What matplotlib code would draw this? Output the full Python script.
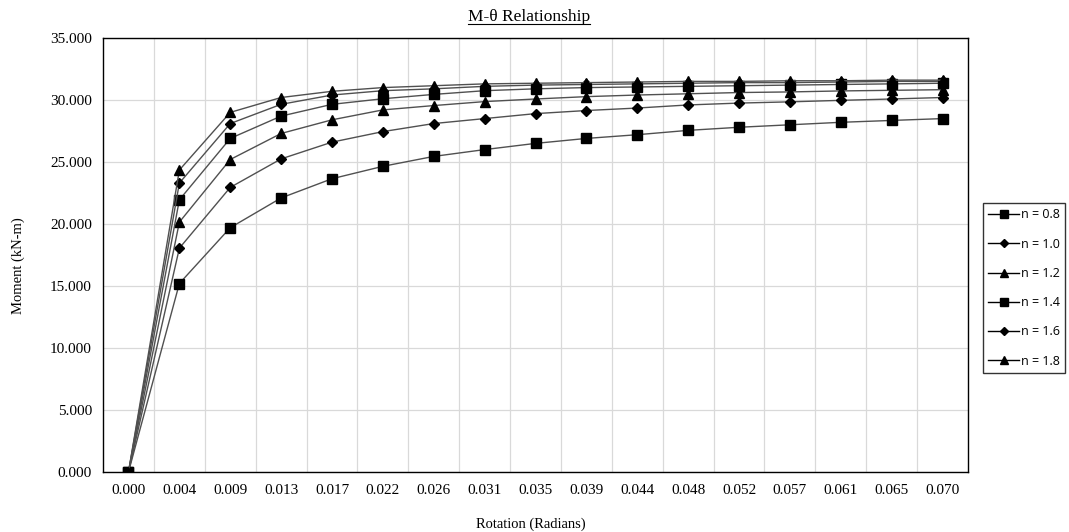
import matplotlib
matplotlib.use('Agg')
import matplotlib.pyplot as plt
from matplotlib.lines import Line2D
import numpy as np

# Data
rotation = ['0.000', '0.004', '0.009', '0.013', '0.017', '0.022', '0.026', '0.031', '0.035',
            '0.039', '0.044', '0.048', '0.052', '0.057', '0.061', '0.065', '0.070']
n_labels = ['n = 0.8', 'n = 1.0', 'n = 1.2', 'n = 1.4', 'n = 1.6', 'n = 1.8']
m_n08 = [0, 15.2, 19.7, 22.1, 23.65, 24.65, 25.45, 26.0, 26.5, 26.9, 27.2, 27.55, 27.8, 28.0, 28.2, 28.35, 28.5]
m_n10 = [0, 18.05, 22.95, 25.25, 26.6, 27.45, 28.1, 28.5, 28.9, 29.15, 29.35, 29.6, 29.75, 29.85, 29.97, 30.08, 30.2]
m_n12 = [0, 20.15, 25.2, 27.3, 28.4, 29.2, 29.55, 29.87, 30.08, 30.27, 30.4, 30.5, 30.6, 30.65, 30.73, 30.78, 30.83]
m_n14 = [0, 21.95, 26.9, 28.7, 29.65, 30.1, 30.45, 30.75, 30.9, 31.0, 31.05, 31.1, 31.15, 31.2, 31.25, 31.3, 31.35]
m_n16 = [0, 23.3, 28.1, 29.65, 30.4, 30.75, 30.9, 31.1, 31.2, 31.25, 31.3, 31.35, 31.4, 31.4, 31.45, 31.5, 31.5]
m_n18 = [0, 24.35, 29.0, 30.2, 30.7, 31.0, 31.15, 31.3, 31.35, 31.4, 31.45, 31.5, 31.5, 31.55, 31.55, 31.6, 31.6]
series = [m_n08, m_n10, m_n12, m_n14, m_n16, m_n18]
markers = ['s', 'D', '^', 's', 'D', '^']
msizes = [7, 5, 7, 7, 5, 7]

serif = ['Liberation Serif', 'DejaVu Serif']

fig = plt.figure(figsize=(10.69, 5.32), dpi=100)
ax = fig.add_axes([0.0964, 0.1128, 0.8091, 0.8158])

x = np.arange(len(rotation))
for vals, lab, mk, ms in zip(series, n_labels, markers, msizes):
    ax.plot(x, vals, color='#505050', lw=1.0, marker=mk, markersize=ms,
            markerfacecolor='black', markeredgecolor='black', label=lab, zorder=3)

ax.set_xlim(-0.5, len(rotation) - 0.5)
ax.set_ylim(0, 35)
ax.set_yticks(np.arange(0, 35.1, 5))
ax.set_yticklabels([f'{v:.3f}' for v in np.arange(0, 35.1, 5)], fontfamily=serif, fontsize=11)
ax.set_xticks(x)
ax.set_xticklabels(rotation, fontfamily=serif, fontsize=11)
ax.set_xticks(np.arange(0.5, len(rotation) - 0.5, 1), minor=True)
ax.tick_params(axis='x', which='major', length=0, pad=9)
ax.tick_params(axis='x', which='minor', length=0)
ax.tick_params(axis='y', length=0, pad=8)
ax.grid(True, which='minor', axis='x', color='#d9d9d9', lw=0.9)
ax.grid(True, which='major', axis='y', color='#d9d9d9', lw=0.9)
ax.set_axisbelow(True)
for sp in ax.spines.values():
    sp.set_color('black')
    sp.set_linewidth(1.0)

fig.text(531 / 1069, 1 - 524 / 532, 'Rotation (Radians)', ha='center', va='center',
         fontfamily=serif, fontsize=10.5)
fig.text(18 / 1069, 0.5, 'Moment (kN-m)', ha='center', va='center', rotation=90,
         fontfamily=serif, fontsize=10.5)
title = fig.text(529 / 1069, 1 - 17 / 532, 'M-θ Relationship', ha='center', va='center',
                 fontfamily=serif, fontsize=12.5)

# underline the title
fig.canvas.draw()
bb = title.get_window_extent().transformed(fig.transFigure.inverted())
fig.add_artist(Line2D([bb.x0, bb.x1], [bb.y0 + 0.002, bb.y0 + 0.002], color='black', lw=0.8))

leg = ax.legend(loc='center left', bbox_to_anchor=(983 / 1069, 1 - 288 / 532), bbox_transform=fig.transFigure,
                frameon=True, fancybox=False, edgecolor='black',
                prop={'family': ['Open Sans', 'DejaVu Sans'], 'size': 9},
                handlelength=2.5, handletextpad=0.15, labelspacing=1.3, borderpad=0.4,
                borderaxespad=0)
leg.get_frame().set_linewidth(1.0)
for h in leg.legend_handles:
    h.set_markersize(h.get_markersize() * 0.9)
    h.set_color('black')

fig.savefig('out.png', dpi=100)
